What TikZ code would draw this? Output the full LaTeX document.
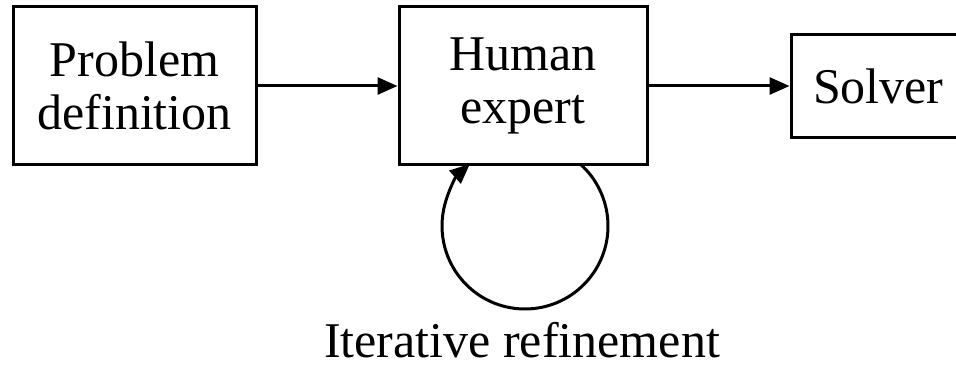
\documentclass[tikz,border=0pt]{standalone}
\usepackage{fontspec}
\setmainfont{Liberation Serif}
\usetikzlibrary{arrows.meta,calc}

\tikzset{
  box/.style={draw, line width=3pt, inner sep=0pt, align=center,
              font=\fontsize{50}{53}\selectfont},
  link/.style={line width=3pt, -{Triangle[length=20pt,width=17pt]}},
  caption/.style={font=\fontsize{50}{52}\selectfont, inner sep=0pt}
}

\begin{document}
\begin{tikzpicture}[x=1pt,y=1pt]
  \useasboundingbox (0,0) rectangle (956,365);
  \clip (0,0) rectangle (956,365);

  % the three stages
  \node[box, minimum width=243pt, minimum height=157pt] (prob) at (134.5,279.5)
    {Problem\\definition};
  \node[box, minimum width=248pt, minimum height=157pt] (human) at (523,279.5)
    {Human\\expert};
  \node[box, minimum width=168pt, minimum height=102pt, text width=160pt, align=left]
    (solver) at (875,279) {\hspace*{18pt}Solver};

  % forward flow
  \draw[link] (prob.east |- 0,279) -- (human.west |- 0,279);
  \draw[link] (human.east |- 0,279) -- (solver.west |- 0,279);

  % refinement loop under the expert box
  \coordinate (loopc) at (525,139);
  \draw[link] ($(loopc)+(48.4:83)$) arc[start angle=48.4, end angle=-228.4, radius=83];

  \node[caption, anchor=base] (iter) at (522,8) {Iterative refinement};
\end{tikzpicture}
\end{document}
